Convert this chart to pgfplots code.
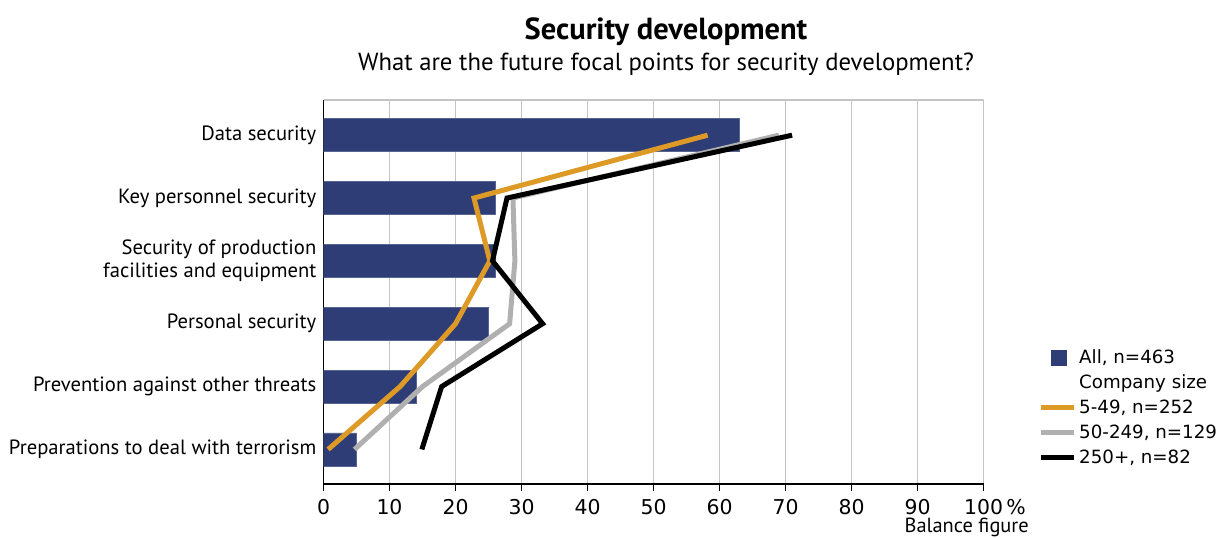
\documentclass[border=0pt]{standalone}
\usepackage{pgfplots}
\pgfplotsset{compat=1.18}
\usepackage{fontspec}
\setmainfont{PT Sans}
\newfontfamily\dejavu{DejaVu Sans}
\definecolor{barblue}{HTML}{2E3D75}
\definecolor{sizeorange}{HTML}{DE9A27}
\definecolor{sizegray}{HTML}{B0B0B0}
\definecolor{gridgray}{HTML}{C4C4C4}

\begin{document}
\begin{tikzpicture}[x=1bp,y=1bp]
\path[use as bounding box] (0,0) rectangle (1225,538);
\node[font=\bfseries\fontsize{30.6}{34}\selectfont, anchor=base] at (666,498) {Security development};
\node[font=\fontsize{24.8}{28}\selectfont, anchor=base] at (666,467) {What are the future focal points for security development?};
\node[font=\fontsize{20.5}{22}\selectfont, anchor=base east, inner sep=0pt] at (1029,5) {Balance figure};
\begin{axis}[
  at={(323.5bp,54bp)}, anchor=south west,
  scale only axis, width=660bp, height=384bp,
  xmin=0, xmax=100, ymin=-0.56, ymax=5.55, y dir=reverse,
  axis x line*=bottom, axis y line*=left,
  axis line style={black, line width=1.2bp},
  xtick={0,10,20,30,40,50,60,70,80,90,100},
  xticklabels={0,10,20,30,40,50,60,70,80,90,100\rlap{\,\%}},
  /pgf/number format/assume math mode=true,
  xticklabel style={font=\dejavu\fontsize{20.5}{22}\selectfont, inner sep=0pt, yshift=-8bp},
  ytick={0,1,2,3,4,5},
  yticklabels={Data security, Key personnel security, {Security of production\\facilities and equipment}, Personal security, Prevention against other threats, Preparations to deal with terrorism},
  yticklabel style={font=\fontsize{20.7}{23.5}\selectfont, align=right, inner sep=0pt, xshift=0bp},
  y tick style={draw=none},
  x tick style={black, line width=1.2bp},
  tick align=outside, major tick length=7bp,
  xmajorgrids, grid style={gridgray, line width=1.2bp},
  legend style={at={(1.0826,0.362)}, anchor=north west, draw=none, fill=none,
    font=\dejavu\fontsize{18.3}{20}\selectfont, row sep=0bp, inner sep=0bp,
    nodes={inner sep=3bp, text height=15bp, text depth=4bp},
    /tikz/every even column/.append style={column sep=3bp}},
  legend cell align=left,
]
\draw[gridgray, line width=1.2bp] (rel axis cs:0,1) -- (rel axis cs:1,1);

% All respondents (bars)
\addplot[xbar, bar width=33bp, bar shift=0pt, fill=barblue, draw=barblue!80!white, line width=0.6bp,
  legend image code/.code={\fill[barblue, draw=none] (10bp,-8bp) rectangle (26bp,8bp); \path[draw=none, fill=none] (0bp,0bp) -- (33bp,0bp);}]
  coordinates {(63,0) (26,1) (26,2) (25,3) (14,4) (5,5)};
\addlegendentry{All, n=463}
\addlegendimage{empty legend}
\addlegendentry{Company size}

% Company size groups (lines)
\addplot[sizeorange, line width=5bp, mark=none,
  legend image code/.code={\draw[sizeorange, line width=5bp] (0bp,0bp) -- (33bp,0bp);}]
  coordinates {(58.2,0) (22.8,1) (25.2,2) (20,3) (11.6,4) (0.7,5)};
\addlegendentry{5-49, n=252}
\addplot[sizegray, line width=5bp, mark=none,
  legend image code/.code={\draw[sizegray, line width=5bp] (0bp,0bp) -- (33bp,0bp);}]
  coordinates {(69,0) (28.7,1) (29,2) (28.2,3) (15,4) (4.7,5)};
\addlegendentry{50-249, n=129}
\addplot[black, line width=5bp, mark=none,
  legend image code/.code={\draw[black, line width=5bp] (0bp,0bp) -- (33bp,0bp);}]
  coordinates {(71,0) (27.8,1) (25.6,2) (33.2,3) (17.9,4) (14.9,5)};
\addlegendentry{250+, n=82}
\end{axis}
\end{tikzpicture}
\end{document}
